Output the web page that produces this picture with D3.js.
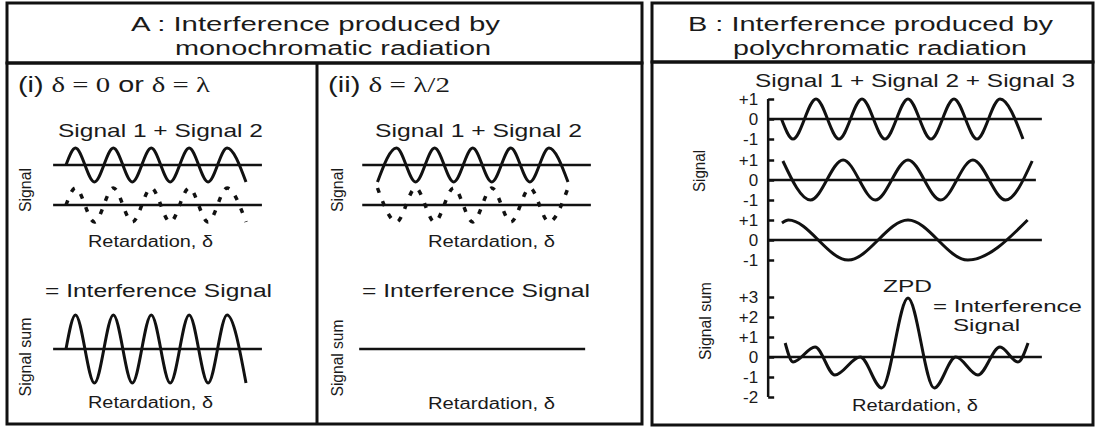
<!DOCTYPE html>
<html>
<head>
<meta charset="utf-8">
<script src="https://cdn.jsdelivr.net/npm/d3@7"></script>
<style>
  body { margin: 0; background: #fff; }
  svg { display: block; font-family: "Liberation Sans", Arial, sans-serif; }
  .frame { fill: none; stroke: #111; stroke-width: 3; }
  .wave { fill: none; stroke: #111; stroke-width: 3; }
  .dash { fill: none; stroke: #111; stroke-width: 3.5; stroke-dasharray: 5 9; }
  .zero { stroke: #111; stroke-width: 2.5; }
  .serif { font-family: "Liberation Serif", "Times New Roman", serif; }
  text { fill: #1a1a1a; }
  .axis text { font-size: 17px; fill: #1a1a1a; font-family: "Liberation Sans", Arial, sans-serif; }
  .axis line { stroke: #111; stroke-width: 2.5; }
  .axis path { display: none; }
</style>
</head>
<body>
<script>
// ---- panel A data: retardation in wavelengths, signal in amplitude units ----
var monoSignal1 = [[0,0],[0.25,1],[0.75,-1],[1.25,1],[1.75,-1],[2.25,1],[2.75,-1],[3.25,1],[3.75,-1],[4.25,1],[4.75,-1]];
var monoSignal2InPhase = [[0,0],[0.25,1],[0.75,-1],[1.25,1],[1.75,-1],[2.25,1],[2.75,-1],[3.25,1],[3.75,-1],[4.25,1],[4.75,-1]];
var monoSumInPhase = [[0,0],[0.25,2],[0.75,-2],[1.25,2],[1.75,-2],[2.25,2],[2.75,-2],[3.25,2],[3.75,-2],[4.25,2],[4.75,-2]];
var monoSignal1b = [[-0.25,-1],[0.25,1],[0.75,-1],[1.25,1],[1.75,-1],[2.25,1],[2.75,-1],[3.25,1],[3.75,-1],[4.25,1],[4.75,-1]];
var monoSignal2OutPhase = [[-0.25,1],[0.25,-1],[0.75,1],[1.25,-1],[1.75,1],[2.25,-1],[2.75,1],[3.25,-1],[3.75,1],[4.25,-1],[4.75,1]];
var monoSumOutPhase = [[-0.73,0],[5.2,0]];
var extentMono1 = [-0.34, 5.17];
var extentMono2 = [-0.65, 5.35];

// ---- panel B data: retardation (ZPD = 0), signal in amplitude units ----
var polySignal1 = [[-2.75,0],[-2.5,-1],[-2,1],[-1.5,-1],[-1,1],[-0.5,-1],[0,1],[0.5,-1],[1,1],[1.5,-1],[2,1],[2.5,-1]];
var polySignal2 = [[-2.72,0.95],[-2.12,-1],[-1.41,1],[-0.71,-1],[0,1],[0.71,-1],[1.41,1],[2.12,-1],[2.7,0.95]];
var polySignal3 = [[-2.74,0.85],[-2.6,1],[-1.3,-1],[0,1],[1.3,-1],[2.6,1]];
var polySum = [[-2.67,0.7],[-2.5,-0.25],[-2.02,0.5],[-1.59,-0.9],[-1.04,0],[-0.57,-1.55],[0,2.95],
               [0.57,-1.55],[1.04,0],[1.52,-0.9],[2.0,0.5],[2.39,-0.25],[2.61,0.7]];
var polyZeroEnds = [2.91, 2.78, 2.91, 2.91];
var polyAxisStart = -3.04;
var signalTicks = [-1, 0, 1];
var sumTicks = [-2, -1, 0, 1, 2, 3];

var svg = d3.select("body").append("svg")
    .attr("width", 1096)
    .attr("height", 430);

function label(str, x, y, len, size, cls) {
  return svg.append("text")
      .attr("class", cls || null)
      .attr("x", x).attr("y", y)
      .attr("font-size", size)
      .attr("textLength", len)
      .attr("lengthAdjust", "spacingAndGlyphs")
      .text(str);
}
function vlabel(str, x, y, len) {   // rotated axis title, centered on y
  svg.append("text")
      .attr("transform", "translate(" + x + "," + y + ")rotate(-90)")
      .attr("text-anchor", "middle")
      .attr("font-size", 16)
      .attr("textLength", len)
      .attr("lengthAdjust", "spacingAndGlyphs")
      .text(str);
}

// ---- frames ----
svg.append("rect").attr("class", "frame").attr("x", 7).attr("y", 3).attr("width", 635).attr("height", 60);
svg.append("rect").attr("class", "frame").attr("x", 7).attr("y", 63).attr("width", 635).attr("height", 361);
svg.append("line").attr("class", "frame").attr("x1", 317).attr("x2", 317).attr("y1", 63).attr("y2", 424);
svg.append("rect").attr("class", "frame").attr("x", 652).attr("y", 3).attr("width", 441).attr("height", 59);
svg.append("rect").attr("class", "frame").attr("x", 652).attr("y", 62).attr("width", 441).attr("height", 363);

// ---- headers ----
label("A : Interference produced by", 131, 31, 369, 20.5);
label("monochromatic radiation", 175, 55, 316, 20.5);
label("B : Interference produced by", 688, 31, 365, 20.5);
label("polychromatic radiation", 733, 55, 294, 20.5);

// ---- panel A ----
var t1 = svg.append("text").attr("x", 18).attr("y", 92).attr("font-size", 22)
    .attr("textLength", 192).attr("lengthAdjust", "spacingAndGlyphs");
t1.append("tspan").text("(i) ");
t1.append("tspan").attr("class", "serif").text("\u03b4 = 0");
t1.append("tspan").text(" or ");
t1.append("tspan").attr("class", "serif").text("\u03b4 = \u03bb");

var t2 = svg.append("text").attr("x", 328).attr("y", 92).attr("font-size", 22)
    .attr("textLength", 122).attr("lengthAdjust", "spacingAndGlyphs");
t2.append("tspan").text("(ii) ");
t2.append("tspan").attr("class", "serif").text("\u03b4 = \u03bb/2");

var ySig1 = d3.scaleLinear().domain([-1, 1]).range([182, 148]),
    ySig2 = d3.scaleLinear().domain([-1, 1]).range([222, 188]),
    ySum = d3.scaleLinear().domain([-2, 2]).range([383, 315]);

function monoPanel(x, extent, s1, s2, sum, drawSumAxis) {
  var line = function(y) {
    return d3.line().x(function(d) { return x(d[0]); }).y(function(d) { return y(d[1]); })
        .curve(d3.curveMonotoneX);
  };
  [ySig1, ySig2].forEach(function(y) {
    svg.append("line").attr("class", "zero")
        .attr("x1", x(extent[0])).attr("x2", x(extent[1]))
        .attr("y1", y(0)).attr("y2", y(0));
  });
  if (drawSumAxis) {
    svg.append("line").attr("class", "zero")
        .attr("x1", x(extent[0])).attr("x2", x(extent[1]))
        .attr("y1", ySum(0)).attr("y2", ySum(0));
  }
  svg.append("path").datum(s1).attr("class", "wave").attr("d", line(ySig1));
  svg.append("path").datum(s2).attr("class", "dash").attr("d", line(ySig2));
  svg.append("path").datum(sum).attr("class", "wave")
      .attr("d", line(ySum)).style("stroke-width", drawSumAxis ? 3 : 2.5);
}

var xMono1 = d3.scaleLinear().domain([0, 4.75]).range([66, 246]),
    xMono2 = d3.scaleLinear().domain([0, 4.75]).range([387, 568]);

monoPanel(xMono1, extentMono1, monoSignal1, monoSignal2InPhase, monoSumInPhase, true);
monoPanel(xMono2, extentMono2, monoSignal1b, monoSignal2OutPhase, monoSumOutPhase, false);

label("Signal 1 + Signal 2", 58, 137, 205, 19);
label("Signal 1 + Signal 2", 375, 137, 207, 19);
label("Retardation, \u03b4", 88, 247, 125, 16);
label("Retardation, \u03b4", 428, 247, 127, 16);
label("= Interference Signal", 45, 297, 227, 18);
label("= Interference Signal", 362, 297, 228, 18);
label("Retardation, \u03b4", 88, 408, 125, 16);
label("Retardation, \u03b4", 428, 409, 127, 16);
vlabel("Signal", 31, 190, 44);
vlabel("Signal", 343, 190, 44);
vlabel("Signal sum", 31, 357, 79);
vlabel("Signal sum", 343, 358, 77);

// ---- panel B ----
var xPoly = d3.scaleLinear().domain([-3, 3]).range([770, 1046]);
var bandCenters = [119, 180, 240];
var bandSignals = [polySignal1, polySignal2, polySignal3];
var ySumB = d3.scaleLinear().domain([-2, 3]).range([397, 297]);
var axisX = xPoly(polyAxisStart);
var fmt = function(d) { return d > 0 ? "+" + d : String(d); };

bandCenters.forEach(function(c, i) {
  var y = d3.scaleLinear().domain([-1, 1]).range([c + 20, c - 20]);
  svg.append("line").attr("class", "zero")
      .attr("x1", axisX).attr("x2", xPoly(polyZeroEnds[i]))
      .attr("y1", y(0)).attr("y2", y(0));
  svg.append("g").attr("class", "axis")
      .attr("transform", "translate(" + axisX + ",0)")
      .call(d3.axisLeft(y).tickValues(signalTicks).tickFormat(fmt)
          .tickSizeInner(-6).tickSizeOuter(0).tickPadding(10));
  svg.append("path").datum(bandSignals[i]).attr("class", "wave")
      .attr("d", d3.line().x(function(d) { return xPoly(d[0]); })
          .y(function(d) { return y(d[1]); }).curve(d3.curveMonotoneX));
});

svg.append("line").attr("class", "zero")
    .attr("x1", axisX).attr("x2", xPoly(polyZeroEnds[3]))
    .attr("y1", ySumB(0)).attr("y2", ySumB(0));
svg.append("g").attr("class", "axis")
    .attr("transform", "translate(" + axisX + ",0)")
    .call(d3.axisLeft(ySumB).tickValues(sumTicks).tickFormat(fmt)
        .tickSizeInner(-6).tickSizeOuter(0).tickPadding(10));
svg.append("line").attr("class", "zero")
    .attr("x1", axisX).attr("x2", axisX)
    .attr("y1", bandCenters[0] - 20).attr("y2", ySumB(-2));
svg.append("path").datum(polySum).attr("class", "wave")
    .attr("d", d3.line().x(function(d) { return xPoly(d[0]); })
        .y(function(d) { return ySumB(d[1]); }).curve(d3.curveMonotoneX));

label("Signal 1 + Signal 2 + Signal 3", 755, 87, 320, 18);
label("ZPD", 883, 292, 49, 17);
label("= Interference", 933, 312, 149, 17);
label("Signal", 953, 331, 67, 17);
label("Retardation, \u03b4", 852, 411, 126, 16);
vlabel("Signal", 705, 171, 42);
vlabel("Signal sum", 711, 321, 78);
</script>
</body>
</html>
